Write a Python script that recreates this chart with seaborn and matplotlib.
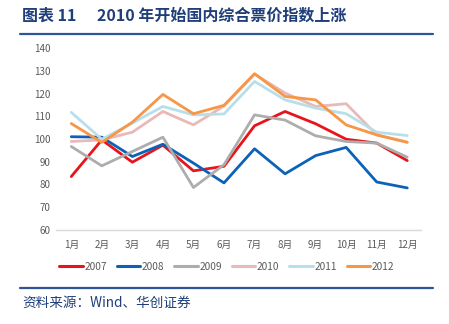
import matplotlib
matplotlib.use("Agg")
import matplotlib.pyplot as plt
import seaborn as sns
import pandas as pd
from matplotlib.lines import Line2D

months = ["1月", "2月", "3月", "4月", "5月", "6月", "7月", "8月", "9月", "10月", "11月", "12月"]
years = ["2007", "2008", "2009", "2010", "2011", "2012"]

y2007 = [83.5, 99.6, 89.8, 97.3, 86.0, 88.0, 105.8, 112.1, 106.7, 99.9, 98.2, 90.5]
y2008 = [101.0, 100.8, 92.3, 97.7, 89.4, 80.7, 95.7, 84.7, 92.7, 96.3, 81.1, 78.5]
y2009 = [96.7, 88.2, 94.5, 100.8, 78.7, 88.7, 110.6, 108.3, 101.4, 98.9, 98.2, 92.0]
y2010 = [98.9, 99.6, 103.0, 112.1, 106.2, 114.5, 128.5, 120.2, 114.3, 115.5, 101.8, 98.5]
y2011 = [111.7, 99.9, 107.0, 114.3, 110.6, 111.0, 125.3, 117.2, 113.6, 111.1, 103.0, 101.5]
y2012 = [106.8, 98.5, 107.4, 119.6, 111.1, 114.8, 128.7, 118.7, 117.2, 106.2, 101.8, 98.6]

colors = ["#E8141C", "#0B62B8", "#ADADAD", "#E8B9B8", "#B8DFE9", "#F79646"]

series = [y2007, y2008, y2009, y2010, y2011, y2012]
df = pd.DataFrame(
    [(i, v, yr) for yr, vals in zip(years, series) for i, v in enumerate(vals)],
    columns=["idx", "value", "year"],
)

sns.set_theme(style="white")
plt.rcParams["font.family"] = ["Noto Sans CJK SC", "DejaVu Sans"]

fig = plt.figure(figsize=(4.49, 3.24), dpi=100)
ax = fig.add_axes([56 / 449, 1 - 230 / 324, (421 - 56) / 449, (230 - 48) / 324])

sns.lineplot(data=df, x="idx", y="value", hue="year", hue_order=years,
             palette=colors, linewidth=2.0, ax=ax, legend=False)

ax.set_xlim(-0.5, 11.45)
ax.set_ylim(60, 140)
ax.set_yticks(range(60, 141, 10))
ax.set_xticks(range(12))
ax.set_xticklabels(months)
ax.set_xlabel("")
ax.set_ylabel("")
ax.tick_params(axis="both", length=0, labelsize=7, labelcolor="#595959", pad=4)
ax.tick_params(axis="x", pad=7)
for s in ["top", "right", "left"]:
    ax.spines[s].set_visible(False)
ax.spines["bottom"].set_color("#D9D9D9")
ax.spines["bottom"].set_linewidth(1.0)
ax.grid(False)

handles = [Line2D([0], [0], color=c, linewidth=2.2) for c in colors]
leg = fig.legend(handles, years, loc="center", bbox_to_anchor=(0.505, 1 - 267 / 324),
                 ncol=6, frameon=False, fontsize=7.3, handlelength=2.3,
                 handletextpad=0.15, columnspacing=1.0)
for t in leg.get_texts():
    t.set_color("#595959")

navy = "#1F3E7A"
fig.text(22 / 449, 1 - 16 / 324, "图表 11", fontsize=11.5, fontweight="bold",
         color=navy, va="center", ha="left")
fig.text(97 / 449, 1 - 16 / 324, "2010 年开始国内综合票价指数上涨",
         fontsize=11.5, fontweight="bold", color=navy, va="center", ha="left")
fig.add_artist(Line2D([20 / 449, 433 / 449], [1 - 34 / 324, 1 - 34 / 324],
                      color="#2E5597", linewidth=1.6))
fig.add_artist(Line2D([20 / 449, 433 / 449], [1 - 288 / 324, 1 - 288 / 324],
                      color="#2E5597", linewidth=1.6))
fig.text(22 / 449, 1 - 303 / 324, "资料来源：Wind、华创证券",
         fontsize=9.8, style="italic", color=navy, va="center", ha="left")

fig.savefig("out.png", dpi=100)
